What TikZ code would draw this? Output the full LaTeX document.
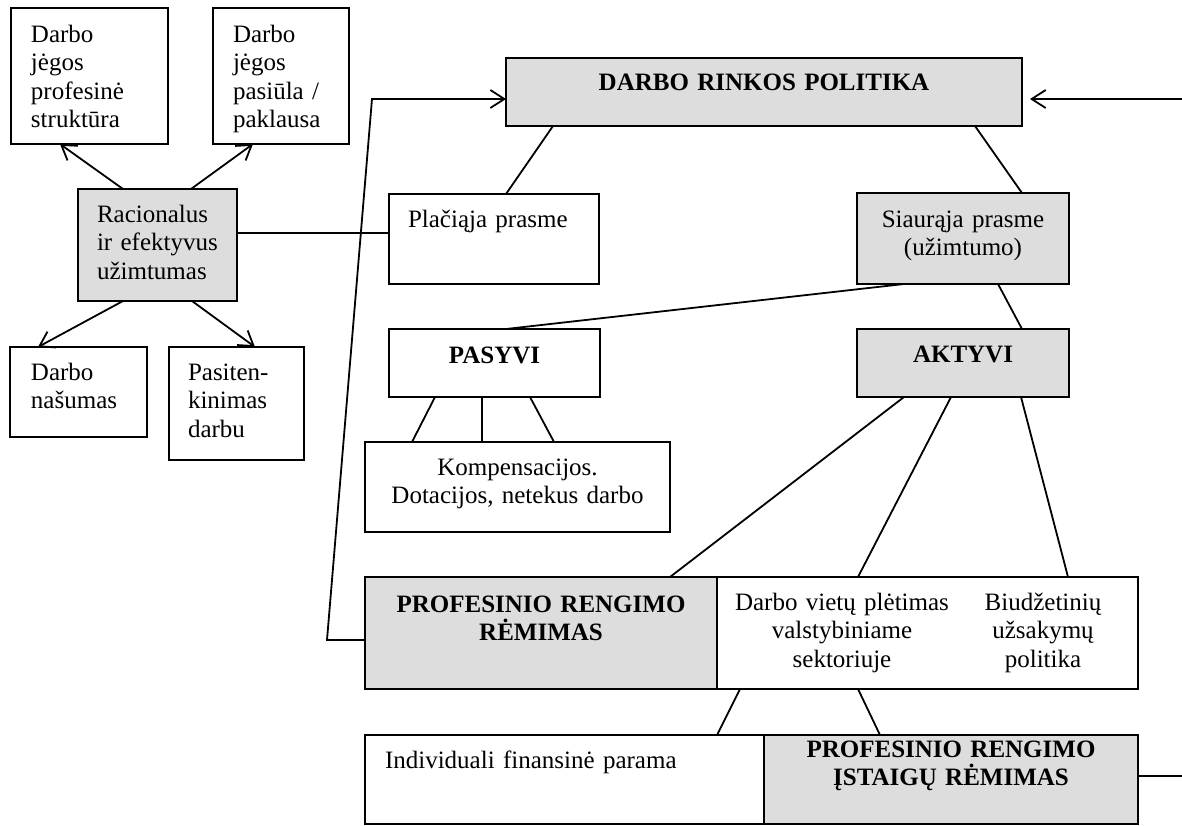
\documentclass[tikz,border=0pt]{standalone}
\usepackage{fontspec}
\setmainfont{Liberation Serif}
\usepackage{tikz}
\usetikzlibrary{arrows.meta, calc}
\definecolor{boxgray}{RGB}{221,221,221}

\begin{document}
\begin{tikzpicture}[
    x=0.5pt, y=-0.5pt,
    box/.style={rectangle, draw, line width=0.9pt, outer sep=0pt, anchor=north west, inner ysep=0pt,
      font=\fontsize{12.5pt}{14.3pt}\selectfont, execute at begin node={\setlength{\baselineskip}{14.3pt}}},
    shaded/.style={box, fill=boxgray},
    bold/.style={font=\fontsize{12.5pt}{14.3pt}\selectfont\bfseries},
    dims/.style n args={4}{inner xsep=#1, text width=#2, text height=#3, text depth=#4},
    link/.style={line width=0.9pt},
    arrow/.style={link, -{Straight Barb[length=7pt,width=9pt]}}
]
\useasboundingbox (0,0) rectangle (1182,825);

% Left block
\node[box, dims={10pt}{58.5pt}{17pt}{51pt}, align=left] (struct) at (11,8) {Darbo\\jėgos\\profesinė\\struktūra};
\node[box, dims={10pt}{48pt}{17pt}{51pt}, align=left] (supply) at (213,8) {Darbo\\jėgos\\pasiūla /\\paklausa};
\node[shaded, dims={9.5pt}{60.5pt}{16.5pt}{39.5pt}, align=left] (rac) at (78,189) {Racionalus\\ir efektyvus\\užimtumas};
\node[box, dims={10.5pt}{47.5pt}{16.5pt}{28.5pt}, align=left] (prod) at (10,347) {Darbo\\našumas};
\node[box, dims={9.5pt}{48.5pt}{16.5pt}{40pt}, align=left] (satis) at (169,347) {Pasiten-\\kinimas\\darbu};

% Policy tree
\node[shaded, bold, dims={5pt}{248pt}{16pt}{18pt}, align=center] (policy) at (506,58) {DARBO RINKOS POLITIKA};
\node[box, dims={9.5pt}{86pt}{16.5pt}{28.5pt}, align=left] (broad) at (389,194) {Plačiąja prasme};
\node[shaded, dims={5pt}{96pt}{17pt}{28.5pt}, align=center] (narrow) at (857,193) {Siaurąja prasme\\(užimtumo)};
\node[box, bold, dims={5pt}{95.5pt}{17pt}{17pt}, align=center] (passive) at (389,329) {PASYVI};
\node[shaded, bold, dims={5pt}{96pt}{16.5pt}{17.5pt}, align=center] (active) at (857,329) {AKTYVI};
\node[box, dims={5pt}{142.5pt}{16.5pt}{28.5pt}, align=center] (comp) at (365,442) {Kompensacijos.\\Dotacijos, netekus darbo};
\node[shaded, bold, dims={5pt}{166pt}{17.5pt}{38.5pt}, align=center] (train) at (365,577) {PROFESINIO RENGIMO\\RĖMIMAS};
\node[box, dims={0pt}{210.5pt}{16.5pt}{39.5pt}, align=left] (jobs) at (717,577) {\parbox[t]{125pt}{\centering Darbo vietų plėtimas\\valstybiniame\\sektoriuje}\parbox[t]{76pt}{\centering Biudžetinių\\užsakymų\\politika}};
\node[box, dims={10pt}{179.5pt}{16.5pt}{28pt}, align=left] (grant) at (365,735) {Individuali finansinė parama};
\node[shaded, bold, dims={5pt}{177pt}{11pt}{33.5pt}, align=center] (inst) at (764,735) {PROFESINIO RENGIMO\\ĮSTAIGŲ RĖMIMAS};

\coordinate (loopA) at (327,640);
\coordinate (loopB) at (372,99);
\coordinate (outR) at (1182,99);
\coordinate (outB) at (1182,776);

% Left block arrows
\draw[arrow] ($(rac.north west)+(45,0)$) -- ($(struct.south west)+(49,0)$);
\draw[arrow] ($(rac.north west)+(113,0)$) -- ($(supply.south west)+(40,0)$);
\draw[arrow] ($(rac.south west)+(45,0)$) -- ($(prod.north west)+(28,0)$);
\draw[arrow] ($(rac.south west)+(114,0)$) -- ($(satis.north west)+(86,0)$);
\draw[link] ($(rac.north east)+(0,44)$) -- ($(broad.north west)+(0,39)$);

% Tree lines
\draw[link] ($(policy.south west)+(47,0)$) -- ($(broad.north west)+(117,0)$);
\draw[link] ($(policy.south east)+(-47,0)$) -- ($(narrow.north east)+(-47,0)$);
\draw[link] ($(narrow.south west)+(47,0)$) -- ($(passive.north west)+(117,0)$);
\draw[link] ($(narrow.south west)+(141,0)$) -- ($(active.north west)+(165,0)$);
\foreach \a/\b in {46/47, 93/117, 141/189}
  \draw[link] ($(passive.south west)+(\a,0)$) -- ($(comp.north west)+(\b,0)$);
\draw[link] ($(active.south west)+(47,0)$) -- ($(train.north west)+(305,0)$);
\draw[link] ($(active.south west)+(94,0)$) -- ($(jobs.north west)+(141,0)$);
\draw[link] ($(active.south west)+(164,0)$) -- ($(jobs.north west)+(351,0)$);
\draw[link] ($(jobs.south west)+(23,0)$) -- ($(grant.north west)+(352,0)$);
\draw[link] ($(jobs.south west)+(141,0)$) -- ($(inst.north west)+(116,0)$);

% Feedback
\draw[arrow] ($(train.north west)+(0,63)$) -- (loopA) -- (loopB) -- (loopB -| policy.west);
\draw[arrow, shorten >=4pt] (outR) -- (outR -| policy.east);
\draw[link] (inst.east |- outB) -- (outB);
\end{tikzpicture}
\end{document}
